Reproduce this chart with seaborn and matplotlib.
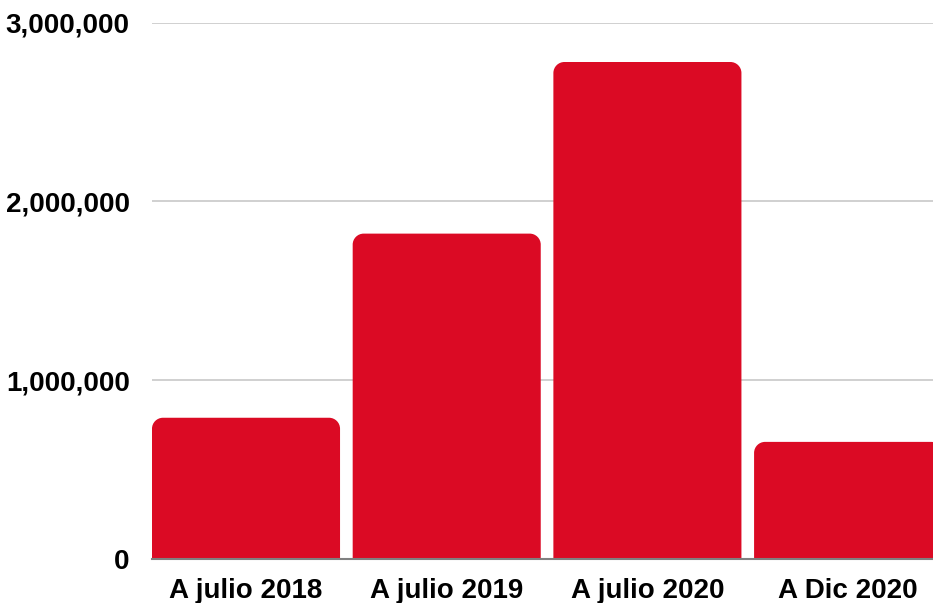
import matplotlib
matplotlib.use("Agg")
import matplotlib.pyplot as plt
import seaborn as sns
import pandas as pd
from matplotlib.patches import PathPatch
from matplotlib.path import Path
from matplotlib.ticker import FuncFormatter

periodos = ["A julio 2018", "A julio 2019", "A julio 2020", "A Dic 2020"]
valores = [790000, 1820000, 2780000, 655000]

df = pd.DataFrame({"periodo": periodos, "valor": valores})

sns.set_style("white")
plt.rcParams["font.family"] = ["Liberation Sans", "DejaVu Sans"]

fig = plt.figure(figsize=(9.33, 6.03), dpi=100)
ax = fig.add_axes([0.1629, 0.073, 0.8371, 0.8894])

rojo = "#DB0A24"
sns.barplot(data=df, x="periodo", y="valor", color=rojo, width=0.937,
            saturation=1, ax=ax)

ax.set_ylim(0, 3000000)
ax.set_xlim(-0.4685, 3.423)

# esquinas superiores redondeadas (radio ~11 px)
rx = 11 / 200.7
ry = 11 / 178.8 * 1e6
k = 0.5523


def barra_redondeada(x0, x1, h):
    verts = [
        (x0, 0), (x0, h - ry),
        (x0, h - ry + k * ry), (x0 + rx - k * rx, h), (x0 + rx, h),
        (x1 - rx, h),
        (x1 - rx + k * rx, h), (x1, h - ry + k * ry), (x1, h - ry),
        (x1, 0), (x0, 0),
    ]
    codes = [Path.MOVETO, Path.LINETO,
             Path.CURVE4, Path.CURVE4, Path.CURVE4,
             Path.LINETO,
             Path.CURVE4, Path.CURVE4, Path.CURVE4,
             Path.LINETO, Path.CLOSEPOLY]
    return Path(verts, codes)


for p in list(ax.patches):
    x, w, h = p.get_x(), p.get_width(), p.get_height()
    p.set_visible(False)
    ax.add_patch(PathPatch(barra_redondeada(x, x + w, h), facecolor=rojo,
                           edgecolor="none", zorder=2))

ax.set_yticks([0, 1000000, 2000000, 3000000])
ax.yaxis.set_major_formatter(FuncFormatter(lambda v, _: f"{int(v):,}"))
ax.grid(axis="y", color="#c4c4c4", linewidth=1.1, zorder=0)
ax.grid(axis="x", visible=False)
ax.set_axisbelow(True)

for lado in ["top", "right", "left"]:
    ax.spines[lado].set_visible(False)
ax.spines["bottom"].set_color("#808080")
ax.spines["bottom"].set_linewidth(1.5)
ax.spines["bottom"].set_zorder(3)

ax.tick_params(axis="both", length=0, labelsize=20, colors="black")
ax.tick_params(axis="y", pad=16)
ax.tick_params(axis="x", pad=14)
for t in ax.get_xticklabels() + ax.get_yticklabels():
    t.set_fontweight("bold")

ax.set_xlabel("")
ax.set_ylabel("")

fig.savefig("out.png", dpi=100)
